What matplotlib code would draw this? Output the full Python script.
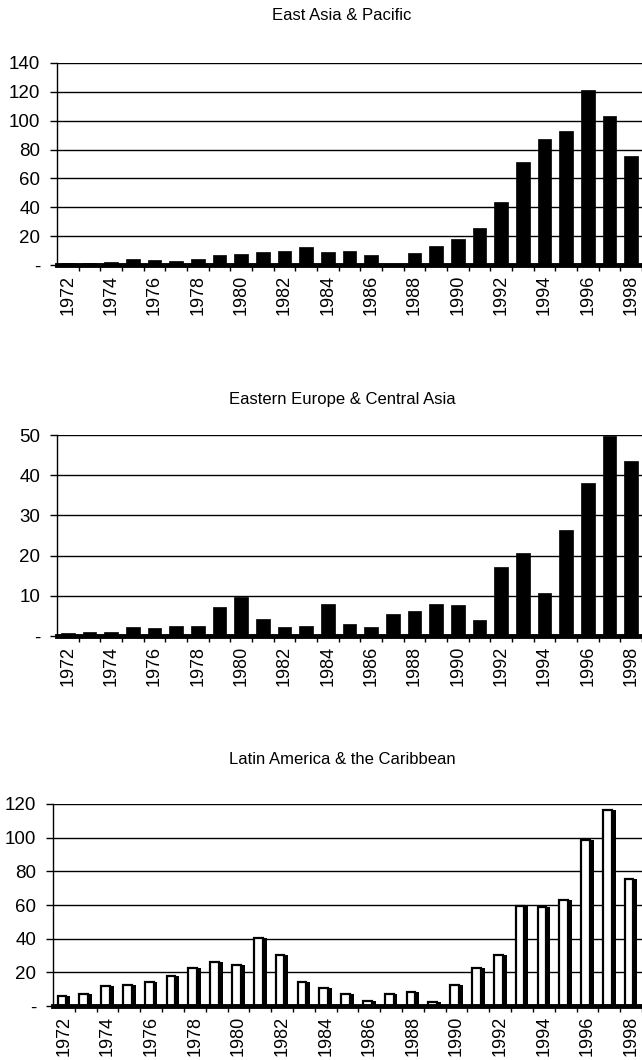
import numpy as np
import matplotlib.pyplot as plt

plt.rcParams['font.family'] = ['Liberation Sans', 'DejaVu Sans']

years = list(range(1972, 1999))

east_asia = [1.5, 1.2, 2.0, 4.0, 3.2, 2.6, 4.0, 6.9, 7.6, 9.0, 9.7, 12.2, 9.0, 10.0,
             6.7, 1.0, 8.5, 13.5, 18.0, 25.7, 44.0, 71.6, 87.0, 93.0, 121.0, 103.5, 75.8]
eastern_europe = [0.7, 0.9, 0.9, 2.3, 2.0, 2.6, 2.4, 7.2, 9.8, 4.3, 2.2, 2.6, 8.0, 2.9,
                  2.3, 5.5, 6.1, 8.0, 7.6, 3.9, 17.1, 20.7, 10.7, 26.3, 38.0, 49.7, 43.6]
latin_america = [6.0, 7.0, 11.6, 12.2, 14.0, 17.6, 22.5, 25.9, 24.3, 40.6, 30.4, 14.0, 10.7, 6.9,
                 2.9, 7.3, 8.2, 2.4, 12.2, 22.5, 30.2, 59.2, 58.8, 62.7, 98.8, 116.6, 75.3]

titles = ['East Asia & Pacific', 'Eastern Europe & Central Asia', 'Latin America & the Caribbean']
yticks = [list(range(0, 141, 20)), list(range(0, 51, 10)), list(range(0, 121, 20))]

W, H = 642, 1060
fig = plt.figure(figsize=(W / 100, H / 100), dpi=100)

# pixel layout of each panel: left edge, top edge, bottom edge, px per category
panels = [
    dict(vals=east_asia, left=57, top=63, bottom=265, step=21.68, title_y=15, style='solid'),
    dict(vals=eastern_europe, left=57, top=435, bottom=636, step=21.68, title_y=399, style='solid'),
    dict(vals=latin_america, left=53, top=804, bottom=1006, step=21.9, title_y=760, style='hollow'),
]

x = np.arange(len(years))

for p, title, yt in zip(panels, titles, yticks):
    ax = fig.add_axes([p['left'] / W, 1 - p['bottom'] / H,
                       (W - p['left']) / W, (p['bottom'] - p['top']) / H])
    ax.set_axisbelow(True)
    vals = np.array(p['vals'])
    if p['style'] == 'solid':
        ax.bar(x, vals, width=0.64, color='black', edgecolor='black', lw=0.5)
    else:
        # white front face with a dark side face
        ax.bar(x - 0.09, vals, width=0.40, color='white', edgecolor='black', lw=1.6)
        ax.bar(x + 0.20, vals, width=0.18, color='black')

    ax.set_xlim(-0.5, -0.5 + (W - p['left']) / p['step'])
    ax.set_ylim(0, yt[-1])

    ax.set_yticks(yt)
    ax.set_yticklabels(['-'] + [str(v) for v in yt[1:]])
    ax.yaxis.grid(True, color='black', lw=1.0)
    ax.tick_params(axis='y', length=5, width=1, pad=7, labelsize=13.5)

    # boundary ticks between categories, year labels under every other bar
    ax.set_xticks(x + 0.5)
    ax.set_xticklabels([])
    ax.tick_params(axis='x', which='major', length=4, width=1)
    ax.set_xticks(x[::2], minor=True)
    ax.set_xticklabels([str(y) for y in years[::2]], minor=True, rotation=90)
    ax.tick_params(axis='x', which='minor', length=0, pad=7, labelsize=13)

    for side in ['top', 'right']:
        ax.spines[side].set_visible(False)
    ax.spines['left'].set_linewidth(1.0)
    ax.spines['bottom'].set_linewidth(3.5)

    fig.text(342 / W, 1 - p['title_y'] / H, title, ha='center', va='center', fontsize=12)

fig.savefig('out.png', dpi=100)
